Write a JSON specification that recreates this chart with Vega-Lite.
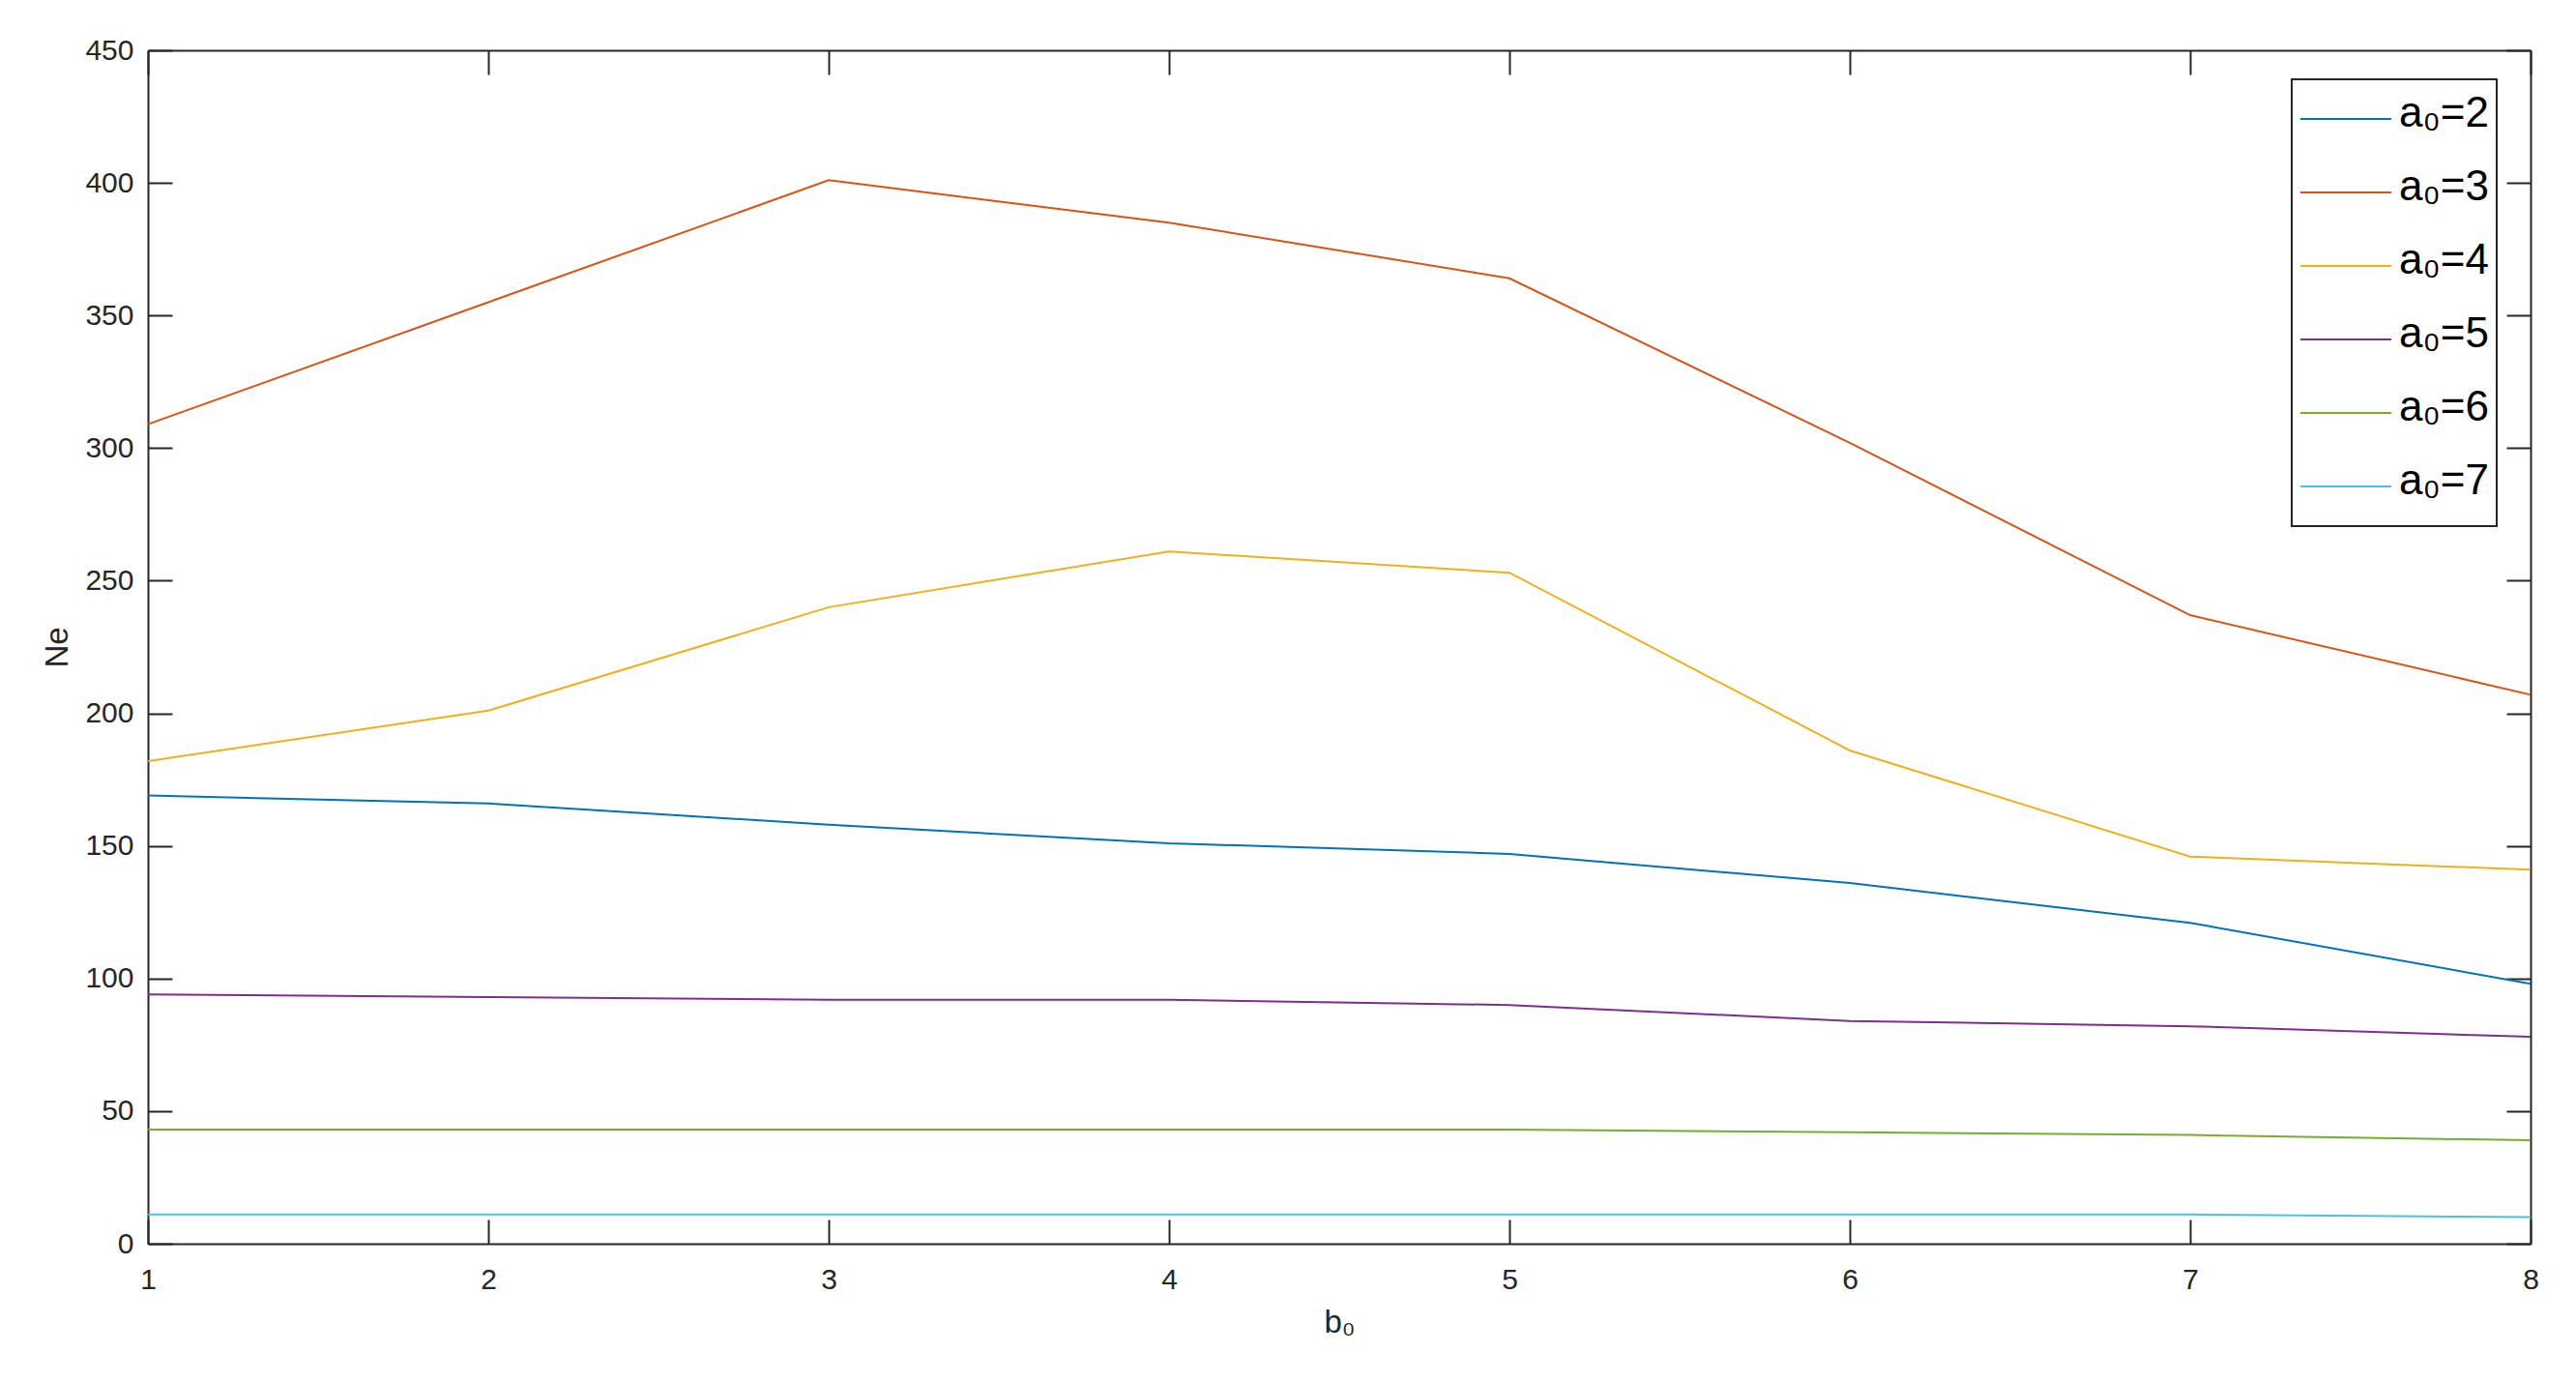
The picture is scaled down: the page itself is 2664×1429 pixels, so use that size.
{
  "$schema": "https://vega.github.io/schema/vega-lite/v6.json",
  "width": 2464,
  "height": 1234,
  "autosize": {"type": "none"},
  "padding": {"left": 153, "top": 52, "right": 47, "bottom": 143},
  "background": "white",
  "config": {
    "font": "Liberation Sans",
    "view": {"stroke": null},
    "axis": {
      "domainColor": "#262626", "domainWidth": 2,
      "tickColor": "#262626", "tickWidth": 2,
      "labelColor": "#262626", "titleColor": "#262626",
      "labelFont": "Liberation Sans", "titleFont": "Liberation Sans",
      "labelFlush": false,
      "grid": false
    }
  },
  "data": {"values": [
    {"b0": 1, "Ne": 169, "a0": "a₀=2"}, {"b0": 2, "Ne": 166, "a0": "a₀=2"}, {"b0": 3, "Ne": 158, "a0": "a₀=2"}, {"b0": 4, "Ne": 151, "a0": "a₀=2"},
    {"b0": 5, "Ne": 147, "a0": "a₀=2"}, {"b0": 6, "Ne": 136, "a0": "a₀=2"}, {"b0": 7, "Ne": 121, "a0": "a₀=2"}, {"b0": 8, "Ne": 98, "a0": "a₀=2"},
    {"b0": 1, "Ne": 309, "a0": "a₀=3"}, {"b0": 2, "Ne": 355, "a0": "a₀=3"}, {"b0": 3, "Ne": 401, "a0": "a₀=3"}, {"b0": 4, "Ne": 385, "a0": "a₀=3"},
    {"b0": 5, "Ne": 364, "a0": "a₀=3"}, {"b0": 6, "Ne": 302, "a0": "a₀=3"}, {"b0": 7, "Ne": 237, "a0": "a₀=3"}, {"b0": 8, "Ne": 207, "a0": "a₀=3"},
    {"b0": 1, "Ne": 182, "a0": "a₀=4"}, {"b0": 2, "Ne": 201, "a0": "a₀=4"}, {"b0": 3, "Ne": 240, "a0": "a₀=4"}, {"b0": 4, "Ne": 261, "a0": "a₀=4"},
    {"b0": 5, "Ne": 253, "a0": "a₀=4"}, {"b0": 6, "Ne": 186, "a0": "a₀=4"}, {"b0": 7, "Ne": 146, "a0": "a₀=4"}, {"b0": 8, "Ne": 141, "a0": "a₀=4"},
    {"b0": 1, "Ne": 94, "a0": "a₀=5"}, {"b0": 2, "Ne": 93, "a0": "a₀=5"}, {"b0": 3, "Ne": 92, "a0": "a₀=5"}, {"b0": 4, "Ne": 92, "a0": "a₀=5"},
    {"b0": 5, "Ne": 90, "a0": "a₀=5"}, {"b0": 6, "Ne": 84, "a0": "a₀=5"}, {"b0": 7, "Ne": 82, "a0": "a₀=5"}, {"b0": 8, "Ne": 78, "a0": "a₀=5"},
    {"b0": 1, "Ne": 43, "a0": "a₀=6"}, {"b0": 2, "Ne": 43, "a0": "a₀=6"}, {"b0": 3, "Ne": 43, "a0": "a₀=6"}, {"b0": 4, "Ne": 43, "a0": "a₀=6"},
    {"b0": 5, "Ne": 43, "a0": "a₀=6"}, {"b0": 6, "Ne": 42, "a0": "a₀=6"}, {"b0": 7, "Ne": 41, "a0": "a₀=6"}, {"b0": 8, "Ne": 39, "a0": "a₀=6"},
    {"b0": 1, "Ne": 11, "a0": "a₀=7"}, {"b0": 2, "Ne": 11, "a0": "a₀=7"}, {"b0": 3, "Ne": 11, "a0": "a₀=7"}, {"b0": 4, "Ne": 11, "a0": "a₀=7"},
    {"b0": 5, "Ne": 11, "a0": "a₀=7"}, {"b0": 6, "Ne": 11, "a0": "a₀=7"}, {"b0": 7, "Ne": 11, "a0": "a₀=7"}, {"b0": 8, "Ne": 10, "a0": "a₀=7"}
  ]},
  "layer": [
    {
      "mark": {"type": "line", "strokeWidth": 2},
      "encoding": {
        "x": {
          "field": "b0", "type": "quantitative",
          "scale": {"domain": [1, 8], "nice": false, "zero": false},
          "axis": {
            "orient": "bottom", "values": [1, 2, 3, 4, 5, 6, 7, 8],
            "tickSize": -25, "labelPadding": 47, "labelFontSize": 30, "labelFlush": false,
            "title": "b₀", "titleFontSize": 33, "titleFontWeight": "normal",
            "titleY": 91, "titleBaseline": "alphabetic"
          }
        },
        "y": {
          "field": "Ne", "type": "quantitative",
          "scale": {"domain": [0, 450], "nice": false, "zero": false},
          "axis": {
            "orient": "left", "values": [0, 50, 100, 150, 200, 250, 300, 350, 400, 450],
            "tickSize": -25, "labelPadding": 40, "labelFontSize": 30, "labelFlush": false,
            "title": "Ne", "titleFontSize": 33, "titleFontWeight": "normal",
            "titleX": -84, "titleBaseline": "alphabetic", "titleAngle": -90
          }
        },
        "color": {
          "field": "a0", "type": "nominal",
          "scale": {
            "domain": ["a₀=2", "a₀=3", "a₀=4", "a₀=5", "a₀=6", "a₀=7"],
            "range": ["#0072BD", "#D95319", "#EDB120", "#7E2F8E", "#77AC30", "#4DBEEE"]
          },
          "legend": {
            "orient": "none", "legendX": 2217, "legendY": 30, "title": null,
            "symbolType": "stroke", "symbolSize": 8836, "symbolStrokeWidth": 2,
            "clipHeight": 66, "rowPadding": 10, "padding": 8, "labelOffset": 7,
            "labelFontSize": 44, "labelFont": "Liberation Sans", "labelColor": "#000000",
            "labelLimit": 0,
            "strokeColor": "#262626", "fillColor": "white",
            "encode": {
              "labels": {"update": {"baseline": {"value": "alphabetic"}, "dy": {"value": 8}}},
              "legend": {"update": {"strokeWidth": {"value": 2}}}
            }
          }
        }
      }
    },
    {
      "mark": {"type": "line", "opacity": 0},
      "encoding": {
        "x": {
          "field": "b0", "type": "quantitative",
          "scale": {"domain": [1, 8], "nice": false, "zero": false},
          "axis": {"orient": "top", "values": [1, 2, 3, 4, 5, 6, 7, 8], "tickSize": -25, "labels": false, "title": null}
        },
        "y": {
          "field": "Ne", "type": "quantitative",
          "scale": {"domain": [0, 450], "nice": false, "zero": false},
          "axis": {"orient": "right", "values": [0, 50, 100, 150, 200, 250, 300, 350, 400, 450], "tickSize": -25, "labels": false, "title": null}
        },
        "detail": {"field": "a0", "type": "nominal"}
      }
    }
  ],
  "resolve": {"axis": {"x": "independent", "y": "independent"}}
}
